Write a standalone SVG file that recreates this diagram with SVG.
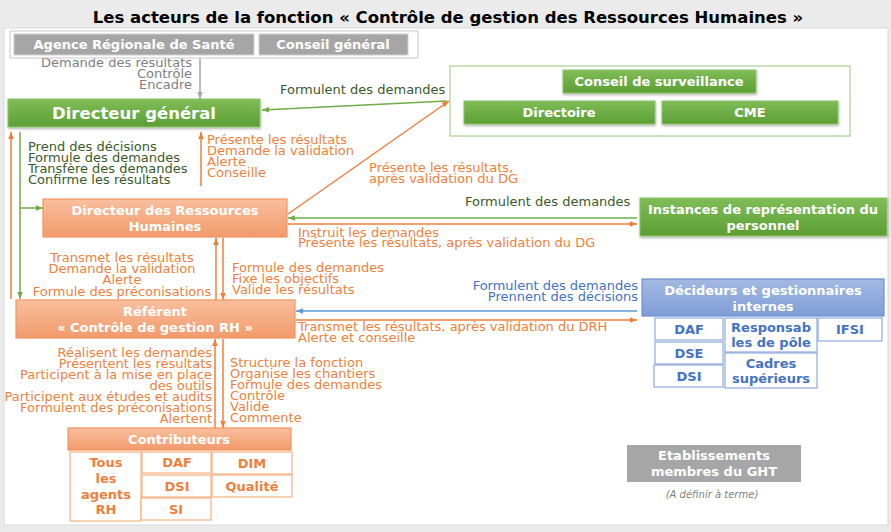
<svg xmlns="http://www.w3.org/2000/svg" width="891" height="532" viewBox="0 0 891 532">
<style>
text{font-family:"DejaVu Sans","Liberation Sans",sans-serif;}
.t{font-size:13px;}
.b{font-size:13px;font-weight:bold;}
.w{fill:#ffffff;}
.gy{fill:#7f7f7f;}
.dg{fill:#3b5a2a;}
.or{fill:#ee7f3d;}
.bl{fill:#4472c4;}
.m{text-anchor:middle;}
.e{text-anchor:end;}
.grayBox{fill:#a6a6a6;stroke:#d0d0d0;stroke-width:1;}
.greenBox{fill:url(#gGreen);stroke:#8cc46a;stroke-width:1;filter:url(#sh);}
.orangeBox{fill:url(#gOrange);stroke:#f0955f;stroke-width:1.2;}
.blueBox{fill:url(#gBlue);stroke:#6f8fcf;stroke-width:1.2;}
.subB{fill:#ffffff;stroke:#8faadc;stroke-width:1.2;}
.subO{fill:#ffffff;stroke:#f4b183;stroke-width:1.2;}
.lo{stroke:#ee7f3d;stroke-width:1.5;fill:none;}
.lg{stroke:#70ad47;stroke-width:1.5;fill:none;}
.lb{stroke:#5b9bd5;stroke-width:1.5;fill:none;}
.lgy{stroke:#a6a6a6;stroke-width:1.5;fill:none;}
</style>
<defs>
<linearGradient id="gGreen" x1="0" y1="0" x2="0" y2="1"><stop offset="0" stop-color="#80bd57"/><stop offset="1" stop-color="#5c9e34"/></linearGradient>
<linearGradient id="gOrange" x1="0" y1="0" x2="0" y2="1"><stop offset="0" stop-color="#f8bf9e"/><stop offset="1" stop-color="#f29a6b"/></linearGradient>
<linearGradient id="gBlue" x1="0" y1="0" x2="0" y2="1"><stop offset="0" stop-color="#a3b9e3"/><stop offset="1" stop-color="#7f9dd6"/></linearGradient>
<filter id="sh" x="-5%" y="-10%" width="110%" height="130%"><feDropShadow dx="0.5" dy="1.5" stdDeviation="1" flood-color="#000" flood-opacity="0.3"/></filter>
<marker id="ao" viewBox="0 0 10 10" refX="10" refY="5" markerWidth="7" markerHeight="7" orient="auto" markerUnits="userSpaceOnUse"><path d="M0,1 L10,5 L0,9 z" fill="#ee7f3d"/></marker>
<marker id="ag" viewBox="0 0 10 10" refX="10" refY="5" markerWidth="7" markerHeight="7" orient="auto" markerUnits="userSpaceOnUse"><path d="M0,1 L10,5 L0,9 z" fill="#70ad47"/></marker>
<marker id="ab" viewBox="0 0 10 10" refX="10" refY="5" markerWidth="7" markerHeight="7" orient="auto" markerUnits="userSpaceOnUse"><path d="M0,1 L10,5 L0,9 z" fill="#5b9bd5"/></marker>
<marker id="agy" viewBox="0 0 10 10" refX="10" refY="5" markerWidth="7" markerHeight="7" orient="auto" markerUnits="userSpaceOnUse"><path d="M0,1 L10,5 L0,9 z" fill="#a6a6a6"/></marker>
</defs>

<rect x="0" y="0" width="891" height="532" fill="#ebebeb"/>
<rect x="4" y="28" width="884" height="497" fill="#ffffff" stroke="#d9d9d9" stroke-width="1"/>
<text x="448" y="23" class="m" style="font-size:16.5px;font-weight:bold;fill:#000">Les acteurs de la fonction « Contrôle de gestion des Ressources Humaines »</text>

<g id="connectors">
<line class="lgy" x1="200" y1="58" x2="200" y2="99" marker-end="url(#agy)"/>
<line class="lg" x1="447" y1="101" x2="262" y2="110" marker-end="url(#ag)"/>
<line class="lo" x1="288" y1="214" x2="449" y2="101" marker-end="url(#ao)"/>
<line class="lo" x1="11" y1="299" x2="11" y2="132" marker-end="url(#ao)"/>
<line class="lg" x1="20" y1="132" x2="20" y2="299" marker-end="url(#ag)"/>
<line class="lg" x1="20" y1="208" x2="43" y2="208" marker-end="url(#ag)"/>
<line class="lo" x1="201" y1="186" x2="201" y2="132" marker-end="url(#ao)"/>
<line class="lg" x1="637" y1="218" x2="288" y2="218" marker-end="url(#ag)"/>
<line class="lo" x1="288" y1="224" x2="637" y2="224" marker-end="url(#ao)"/>
<line class="lo" x1="216" y1="300" x2="216" y2="238" marker-end="url(#ao)"/>
<line class="lo" x1="223" y1="238" x2="223" y2="300" marker-end="url(#ao)"/>
<line class="lb" x1="637" y1="311" x2="296" y2="311" marker-end="url(#ab)"/>
<line class="lo" x1="296" y1="320" x2="637" y2="320" marker-end="url(#ao)"/>
<line class="lo" x1="215" y1="428" x2="215" y2="339" marker-end="url(#ao)"/>
<line class="lo" x1="223" y1="339" x2="223" y2="428" marker-end="url(#ao)"/>
</g>

<g id="labels">
<text class="t gy e"><tspan x="192" y="67">Demande des résultats</tspan><tspan x="192" y="78">Contrôle</tspan><tspan x="192" y="89">Encadre</tspan></text>
<text class="t dg" x="280" y="94">Formulent des demandes</text>
<text class="t dg"><tspan x="28" y="151">Prend des décisions</tspan><tspan x="28" y="162">Formule des demandes</tspan><tspan x="28" y="173">Transfère des demandes</tspan><tspan x="28" y="184">Confirme les résultats</tspan></text>
<text class="t or"><tspan x="207" y="144">Présente les résultats</tspan><tspan x="207" y="155">Demande la validation</tspan><tspan x="207" y="166">Alerte</tspan><tspan x="207" y="177">Conseille</tspan></text>
<text class="t or"><tspan x="369" y="172">Présente les résultats,</tspan><tspan x="369" y="183">après validation du DG</tspan></text>
<text class="t dg" x="465" y="206">Formulent des demandes</text>
<text class="t or"><tspan x="298" y="237">Instruit les demandes</tspan><tspan x="298" y="247">Présente les résultats, après validation du DG</tspan></text>
<text class="t or m"><tspan x="122" y="262">Transmet les résultats</tspan><tspan x="122" y="273">Demande la validation</tspan><tspan x="122" y="284">Alerte</tspan><tspan x="122" y="296">Formule des préconisations</tspan></text>
<text class="t or"><tspan x="232" y="272">Formule des demandes</tspan><tspan x="232" y="283">Fixe les objectifs</tspan><tspan x="232" y="294">Valide les résultats</tspan></text>
<text class="t bl e"><tspan x="638" y="290">Formulent des demandes</tspan><tspan x="638" y="301">Prennent des décisions</tspan></text>
<text class="t or"><tspan x="298" y="331">Transmet les résultats, après validation du DRH</tspan><tspan x="298" y="342">Alerte et conseille</tspan></text>
<text class="t or e"><tspan x="212" y="357">Réalisent les demandes</tspan><tspan x="212" y="368">Présentent les résultats</tspan><tspan x="212" y="379">Participent à la mise en place</tspan><tspan x="212" y="390">des outils</tspan><tspan x="212" y="401">Participent aux études et audits</tspan><tspan x="212" y="412">Formulent des préconisations</tspan><tspan x="212" y="423">Alertent</tspan></text>
<text class="t or"><tspan x="230" y="367">Structure la fonction</tspan><tspan x="230" y="378">Organise les chantiers</tspan><tspan x="230" y="389">Formule des demandes</tspan><tspan x="230" y="400">Contrôle</tspan><tspan x="230" y="411">Valide</tspan><tspan x="230" y="422">Commente</tspan></text>
</g>

<g id="tutelles">
<rect x="10" y="31" width="408" height="27" fill="#ffffff" stroke="#c8c8c8" stroke-width="1"/>
<g id="ars"><rect class="grayBox" x="14" y="34" width="240" height="21"/><text class="b w m" x="134" y="49">Agence Régionale de Santé</text></g>
<g id="cg"><rect class="grayBox" x="259" y="34" width="149" height="21"/><text class="b w m" x="333" y="49">Conseil général</text></g>
</g>

<g id="dg"><rect class="greenBox" x="8" y="99" width="252" height="28"/><text class="w m" x="134" y="119" style="font-size:16.5px;font-weight:bold">Directeur général</text></g>

<g id="gouvernance">
<rect x="450" y="66" width="400" height="70" fill="none" stroke="#a9d08e" stroke-width="1.2"/>
<g id="cs"><rect class="greenBox" x="563" y="70" width="193" height="23"/><text class="b w m" x="659" y="86">Conseil de surveillance</text></g>
<g id="directoire"><rect class="greenBox" x="464" y="101" width="191" height="23"/><text class="b w m" x="559" y="117">Directoire</text></g>
<g id="cme"><rect class="greenBox" x="662" y="101" width="176" height="23"/><text class="b w m" x="750" y="117">CME</text></g>
</g>

<g id="drh"><rect class="orangeBox" x="43" y="199" width="244" height="38"/><text class="b w m"><tspan x="165" y="215">Directeur des Ressources</tspan><tspan x="165" y="231">Humaines</tspan></text></g>

<g id="irp"><rect class="greenBox" x="640" y="198" width="247" height="38"/><text class="b w m"><tspan x="763" y="214">Instances de représentation du</tspan><tspan x="763" y="230">personnel</tspan></text></g>

<g id="referent"><rect class="orangeBox" x="16" y="300" width="279" height="38"/><text class="b w m"><tspan x="155" y="316">Référent</tspan><tspan x="155" y="332">« Contrôle de gestion RH »</tspan></text></g>

<g id="decideurs">
<rect class="blueBox" x="642" y="279" width="242" height="37"/><text class="b w m"><tspan x="763" y="295">Décideurs et gestionnaires</tspan><tspan x="763" y="311">internes</tspan></text>
<rect class="subB" x="655" y="318" width="68" height="22"/><text class="b bl m" x="689" y="334">DAF</text>
<rect class="subB" x="655" y="342" width="68" height="22"/><text class="b bl m" x="689" y="358">DSE</text>
<rect class="subB" x="654" y="365" width="69" height="22"/><text class="b bl m" x="689" y="381">DSI</text>
<rect class="subB" x="725" y="318" width="92" height="34"/><text class="b bl m"><tspan x="771" y="332">Responsab</tspan><tspan x="771" y="347">les de pôle</tspan></text>
<rect class="subB" x="725" y="353" width="92" height="35"/><text class="b bl m"><tspan x="771" y="368">Cadres</tspan><tspan x="771" y="383">supérieurs</tspan></text>
<rect class="subB" x="818" y="318" width="64" height="23"/><text class="b bl m" x="850" y="334">IFSI</text>
</g>

<g id="contributeurs">
<rect class="orangeBox" x="68" y="428" width="223" height="22"/><text class="b w m" x="179" y="444">Contributeurs</text>
<rect class="subO" x="70" y="452" width="71" height="69"/><text class="b or m"><tspan x="106" y="467">Tous</tspan><tspan x="106" y="483">les</tspan><tspan x="106" y="499">agents</tspan><tspan x="106" y="514">RH</tspan></text>
<rect class="subO" x="142" y="452" width="69" height="21"/><text class="b or m" x="177" y="467">DAF</text>
<rect class="subO" x="142" y="475" width="69" height="22"/><text class="b or m" x="177" y="491">DSI</text>
<rect class="subO" x="141" y="498" width="70" height="22"/><text class="b or m" x="176" y="514">SI</text>
<rect class="subO" x="212" y="452" width="80" height="22"/><text class="b or m" x="252" y="468">DIM</text>
<rect class="subO" x="212" y="475" width="80" height="22"/><text class="b or m" x="252" y="491">Qualité</text>
</g>

<g id="ght">
<rect x="627" y="445" width="174" height="37" fill="#a6a6a6"/>
<text class="b w m"><tspan x="714" y="460">Etablissements</tspan><tspan x="714" y="476">membres du GHT</tspan></text>
<text class="gy m" x="712" y="498" style="font-size:10px;font-style:italic">(A définir à terme)</text>
</g>
</svg>
